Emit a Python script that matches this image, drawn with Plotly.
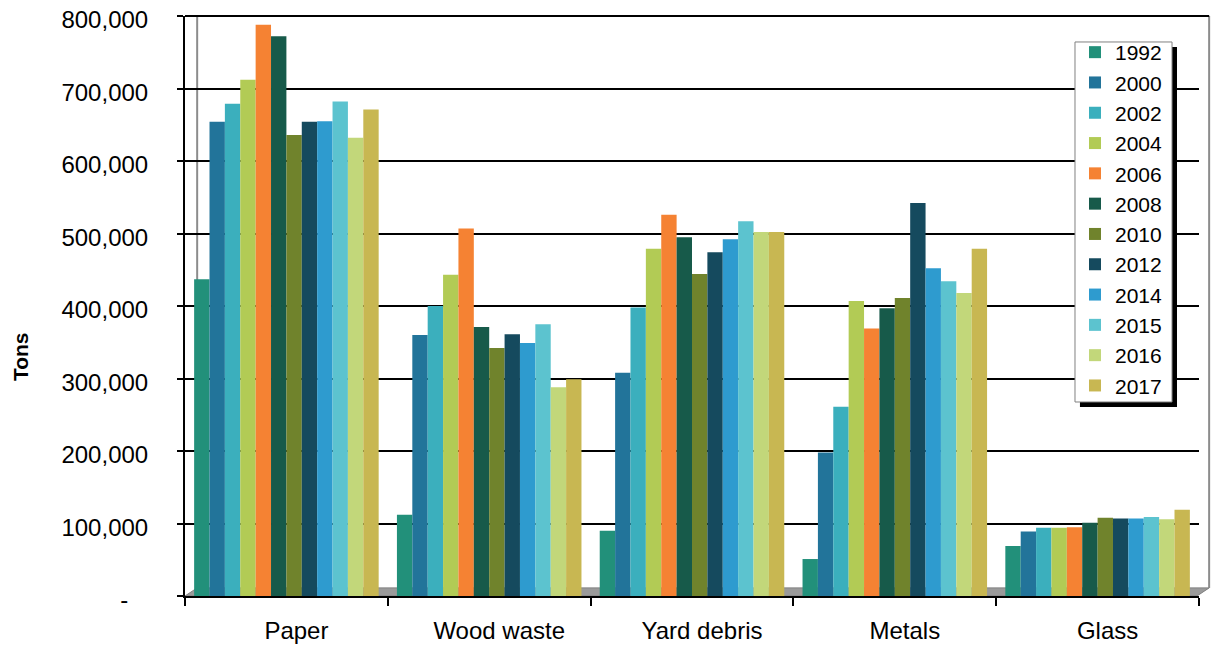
import plotly.graph_objects as go

categories = ["Paper", "Wood waste", "Yard debris", "Metals", "Glass"]
years = ["1992", "2000", "2002", "2004", "2006", "2008", "2010", "2012", "2014", "2015", "2016", "2017"]
colors = ["#22907A", "#22749A", "#3BAFBD", "#B2CB55", "#F58233", "#175A4A",
          "#70832C", "#154A5E", "#2E9BCF", "#5CC3CF", "#C2D77A", "#C8B752"]

v1992 = [437000, 112000, 90000, 51000, 69000]
v2000 = [654000, 360000, 308000, 198000, 89000]
v2002 = [679000, 400000, 398000, 261000, 94000]
v2004 = [712000, 443000, 479000, 407000, 94000]
v2006 = [788000, 507000, 526000, 369000, 95000]
v2008 = [772000, 371000, 495000, 397000, 101000]
v2010 = [636000, 342000, 444000, 411000, 108000]
v2012 = [654000, 361000, 474000, 542000, 107000]
v2014 = [655000, 349000, 492000, 452000, 107000]
v2015 = [682000, 375000, 517000, 434000, 109000]
v2016 = [632000, 288000, 502000, 418000, 106000]
v2017 = [671000, 299000, 502000, 479000, 119000]
series = [v1992, v2000, v2002, v2004, v2006, v2008, v2010, v2012, v2014, v2015, v2016, v2017]

ytick_vals = [0, 100000, 200000, 300000, 400000, 500000, 600000, 700000, 800000]
ytick_text = ["-\u00a0\u00a0\u00a0", "100,000", "200,000", "300,000", "400,000",
              "500,000", "600,000", "700,000", "800,000"]

fig = go.Figure()
for yr, vals, c in zip(years, series, colors):
    fig.add_trace(go.Bar(name=yr, x=categories, y=vals, marker=dict(color=c, line=dict(width=0))))

font_family = "Liberation Sans, Arial, sans-serif"

fig.update_layout(
    width=1211, height=648,
    margin=dict(l=185, r=12, t=16, b=52, autoexpand=False),
    paper_bgcolor="white", plot_bgcolor="white",
    barmode="group", bargap=0.09, bargroupgap=0,
    font=dict(family=font_family, color="black"),
    showlegend=True,
    legend=dict(x=0.8777, y=0.9724, xanchor="left", yanchor="top",
                bgcolor="rgba(0,0,0,0)", borderwidth=0,
                entrywidth=54,
                font=dict(size=21, family=font_family), traceorder="normal"),
    xaxis=dict(showline=True, linecolor="black", linewidth=2, ticks="outside",
               tickson="boundaries", ticklen=8, tickwidth=1.5, tickcolor="black",
               tickfont=dict(size=24), ticklabelshift=10, ticklabelstandoff=12,
               showgrid=False, automargin=False),
    yaxis=dict(range=[0, 800000], tickvals=ytick_vals, ticktext=ytick_text,
               showline=True, linecolor="black", linewidth=2, ticks="outside",
               ticklen=6, tickwidth=1.5, tickcolor="black",
               tickfont=dict(size=24), ticklabelstandoff=24, ticklabelshift=4,
               ticklabeloverflow="allow",
               showgrid=True, gridcolor="black", gridwidth=2, zeroline=False,
               automargin=False),
    annotations=[dict(text="<b>Tons</b>", x=-0.1627, xref="paper", xanchor="center",
                      y=0.412, yref="paper", yanchor="middle",
                      showarrow=False, textangle=-90, font=dict(size=21))],
)

# floor of the 3D-style plot area and left/right wall edges (decoration)
fig.add_shape(type="path", xref="paper", yref="paper",
              path="M 0,0 L 0.012,0.014 L 1.01,0.014 L 0.998,0 Z",
              fillcolor="#9A9A9A", line=dict(color="#7F7F7F", width=1), layer="below")
fig.add_shape(type="line", xref="paper", yref="paper", x0=0.012, x1=0.012, y0=0.014, y1=1.0,
              line=dict(color="#8C8C8C", width=2), layer="below")
fig.add_shape(type="line", xref="paper", yref="paper", x0=1.01, x1=1.01, y0=0.014, y1=1.0,
              line=dict(color="#8C8C8C", width=2), layer="below")
# top edge of back wall (800,000 line)
fig.add_shape(type="line", xref="paper", yref="paper", x0=0.0, x1=1.01, y0=1.0, y1=1.0,
              line=dict(color="black", width=2), layer="below")
# legend shadow and box
fig.add_shape(type="rect", xref="paper", yref="paper", x0=0.8826, x1=0.9783, y0=0.3259, y1=0.9466,
              fillcolor="black", line=dict(width=0), layer="above")
fig.add_shape(type="rect", xref="paper", yref="paper", x0=0.8777, x1=0.9734, y0=0.3345, y1=0.9552,
              fillcolor="white", line=dict(color="#808080", width=1), layer="above")

fig.write_html("out.html", config={"displayModeBar": False},
               post_script="document.body.style.margin='0';document.body.style.overflow='hidden';")
